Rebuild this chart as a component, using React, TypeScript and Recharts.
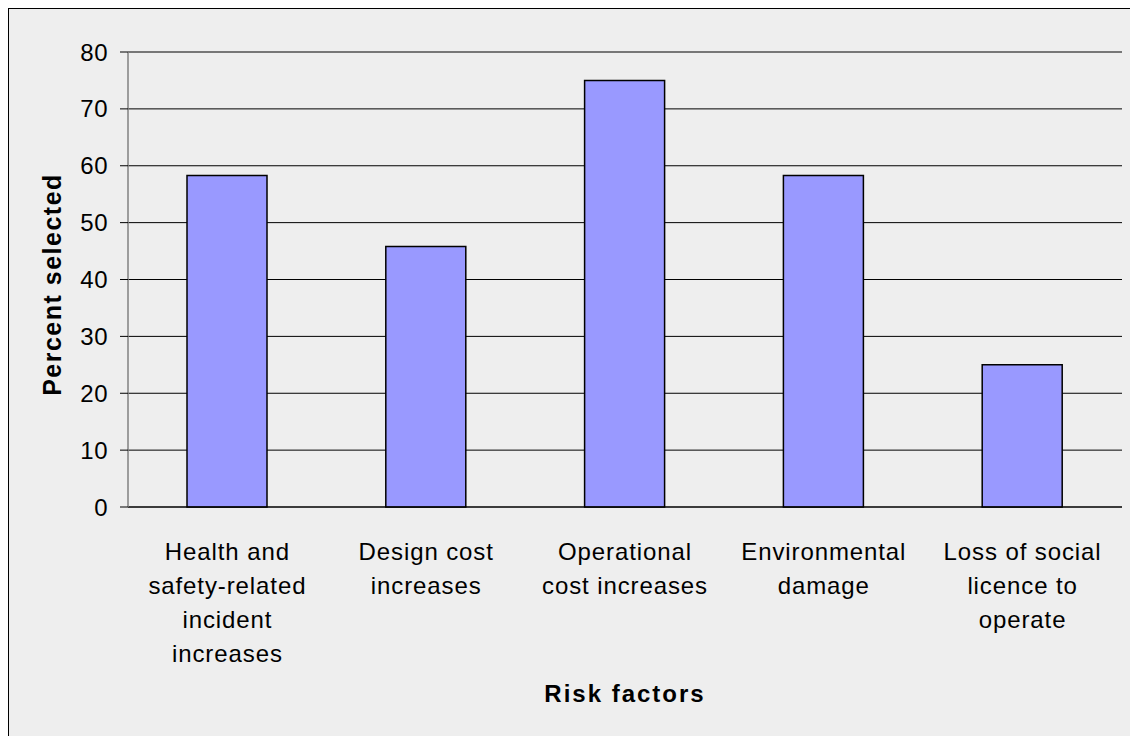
import React from "react"
import { Bar, BarChart, CartesianGrid, XAxis, YAxis } from "recharts"

// categories on the x axis, "\n" marks where a label wraps
const categories = [
    "Health and\nsafety-related\nincident\nincreases",
    "Design cost\nincreases",
    "Operational\ncost increases",
    "Environmental\ndamage",
    "Loss of social\nlicence to\noperate",
]
const percentSelected = [58.3, 45.8, 75, 58.3, 25]
const yTicks = [0, 10, 20, 30, 40, 50, 60, 70, 80]
const edgeTicks = [0, 1, 2, 3, 4, 5]

const data = categories.map((name, i) => ({ name, value: percentSelected[i], pos: i + 0.5 }))

const FONT = "'Liberation Sans', Arial, sans-serif"
const W = 1121
const H = 727

function CategoryTick({ x, y, payload }: any) {
    const lines = String(payload.value).split("\n")
    return <text x={x} y={y} textAnchor="middle" fontFamily={FONT} fontSize={24} fill="#000" letterSpacing={0.9}>
        {lines.map((l, i) => <tspan key={i} x={x} dy={i === 0 ? 45 : 34}>{l}</tspan>)}
    </text>
}

function YTitle({ viewBox }: any) {
    const cx = 43
    const cy = viewBox.y + viewBox.height / 2 + 5
    return <text x={cx} y={cy} transform={`rotate(-90 ${cx} ${cy})`} textAnchor="middle" dominantBaseline="central"
        fontFamily={FONT} fontSize={25} fontWeight="bold" fill="#000" letterSpacing={1.5}>Percent selected</text>
}

function XTitle({ viewBox }: any) {
    const cx = viewBox.x + viewBox.width / 2
    return <text x={cx} y={693} textAnchor="middle" fontFamily={FONT} fontSize={24} fontWeight="bold" fill="#000" letterSpacing={2}>Risk factors</text>
}

export default function App() {
    return <div style={{ width: W, height: H, borderTop: "1px solid #000", borderLeft: "1px solid #000", background: "#eeeeee" }}>
        {/* chart panel runs off the right and bottom edges of the page */}
        <style>{"body{margin:8px 0 0 8px;overflow:hidden}"}</style>
        <BarChart width={W} height={H} data={data} margin={{ top: 43, right: W - 1113, left: 0, bottom: H - 498 - 200 }}>
            <CartesianGrid vertical={false} stroke="#000" strokeWidth={1} />
            <XAxis xAxisId="edges" type="number" dataKey="pos" domain={[0, 5]} ticks={edgeTicks} height={0}
                tick={() => <g />} tickLine={{ stroke: "#808080", strokeWidth: 1.5 }} tickSize={8} axisLine={false} />
            <XAxis xAxisId="cat" dataKey="name" height={200} interval={0} tickLine={false} tick={<CategoryTick />}
                axisLine={{ stroke: "#000" }} label={<XTitle />} />
            <YAxis width={119} domain={[0, 80]} ticks={yTicks} interval={0} tickSize={8} tickMargin={12}
                tickLine={{ stroke: "#000" }} axisLine={{ stroke: "#808080", strokeWidth: 1.5 }}
                tick={{ fontFamily: FONT, fontSize: 24, fill: "#000", letterSpacing: 0.5 }} label={<YTitle />} />
            <Bar xAxisId="cat" dataKey="value" fill="#9999ff" stroke="#000" strokeWidth={1.5} barSize={80} isAnimationActive={false} />
        </BarChart>
    </div>
}
